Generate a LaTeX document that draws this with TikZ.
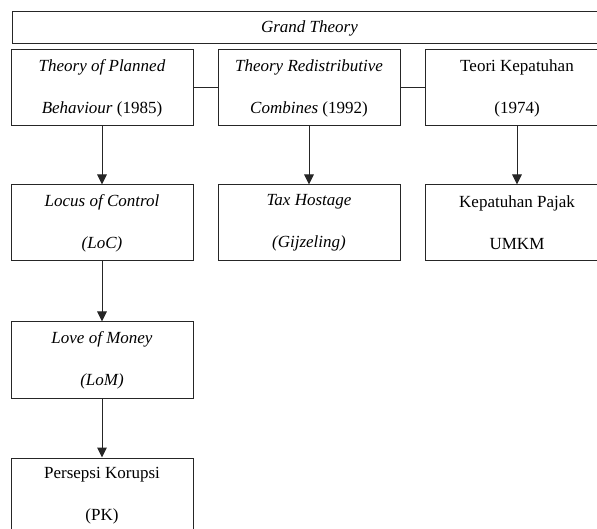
\documentclass[tikz,border=0pt]{standalone}
\usepackage{fontspec}
\setmainfont{Liberation Serif}
\usetikzlibrary{arrows.meta}
\begin{document}
\begin{tikzpicture}[x=1pt,y=-1pt,
  box/.style={draw=black!85, line width=1pt, rectangle, inner sep=0pt,
    minimum width=182pt, minimum height=76pt, align=center,
    font=\fontsize{17}{42}\selectfont},
  conn/.style={draw=black!85, line width=1pt},
  arr/.style={conn, -{Triangle[width=9.5pt,length=10pt]}}]
\useasboundingbox (0,0) rectangle (597,529);
\node[box, minimum width=595pt, minimum height=32pt] (gt) at (309.5,28) {\itshape Grand Theory};
\node[box] (b1) at (102,88) {\itshape Theory of Planned\\ \textit{Behaviour} (1985)};
\node[box] (b2) at (309,88) {\itshape Theory Redistributive\\ \textit{Combines} (1992)};
\node[box, minimum width=184pt] (b3) at (517,88) {Teori Kepatuhan\\ (1974)};
\node[box] (b4) at (102,223) {\itshape Locus of Control\\ \itshape (LoC)};
\node[box] (b5) at (309,223) {\itshape Tax Hostage\\ \itshape (Gijzeling)};
\node[box, minimum width=184pt] (b6) at (517,223) {Kepatuhan Pajak\\ UMKM};
\node[box] (b7) at (102,360) {\itshape Love of Money\\ \itshape (LoM)};
\node[box] (b8) at (102,496) {Persepsi Korupsi\\ (PK)};
\draw[conn] (b1.east) -- (b2.west);
\draw[conn] (b2.east) -- (b3.west);
\draw[arr] (b1) -- (b4);
\draw[arr] (b2) -- (b5);
\draw[arr] (b3) -- (b6);
\draw[arr] (b4) -- (b7);
\draw[arr] (b7) -- (b8);
\end{tikzpicture}
\end{document}
